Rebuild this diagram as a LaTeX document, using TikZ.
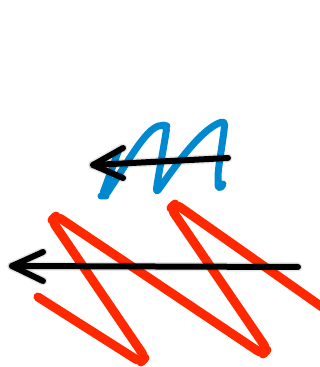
\documentclass[tikz,border=0pt]{standalone}
\usetikzlibrary{calc}
\definecolor{wavered}{RGB}{255,40,0}
\definecolor{waveblue}{RGB}{0,137,208}
\tikzset{
  x=1pt, y=1pt,
  redwave/.style={draw=wavered, line width=9pt, line cap=round, line join=round},
  bluewave/.style={draw=waveblue, line width=7pt, line cap=round, line join=round},
  arrowline/.style={draw=black, line width=6pt, line cap=round, line join=round},
  arrowshadow/.style={draw=black, line width=9pt, line cap=round, line join=round, opacity=0.1},
}
\begin{document}
\begin{tikzpicture}
\useasboundingbox (0,0) rectangle (320,367);
% red wave
\draw[redwave, rounded corners=6pt] (38,70) -- (140.7,4.7) -- (145.3,9.3) -- (51.7,146.7)
  -- (56.3,151.3) -- (262.7,12.7) -- (267.3,17.3) -- (170.7,158.7) -- (175.3,163.3) -- (322,60);
% blue wave
\draw[bluewave, rounded corners=4pt] (118,215) -- (102,171) -- (105,171)
  .. controls (125,200) and (145,238) .. (163,242) -- (167,241)
  .. controls (163,215) and (158,190) .. (156,174)
  .. controls (172,196) and (200,238) .. (225,246)
  .. controls (223,225) and (218,200) .. (218,186)
  .. controls (218,178) and (222,179) .. (223,183);
% coordinates for arrows
\coordinate (rt) at (298,100);
\coordinate (rh) at (12,101);
\coordinate (ra1) at (43,115);
\coordinate (ra2) at (43,86);
\coordinate (bt) at (228,209);
\coordinate (bh) at (93,202);
\coordinate (ba1) at (123,219);
\coordinate (ba2) at (123,189);
% shadows
\begin{scope}[shift={(2,-3)}]
\draw[arrowshadow] (rt) -- (rh);
\draw[arrowshadow] (ra1) -- (rh) -- (ra2);
\draw[arrowshadow] (bt) -- (bh);
\draw[arrowshadow] (ba1) -- (bh) -- (ba2);
\end{scope}
% arrows
\draw[arrowline] (rt) -- (rh);
\draw[arrowline] (ra1) -- (rh) -- (ra2);
\draw[arrowline] (bt) -- (bh);
\draw[arrowline] (ba1) -- (bh) -- (ba2);
\end{tikzpicture}
\end{document}
